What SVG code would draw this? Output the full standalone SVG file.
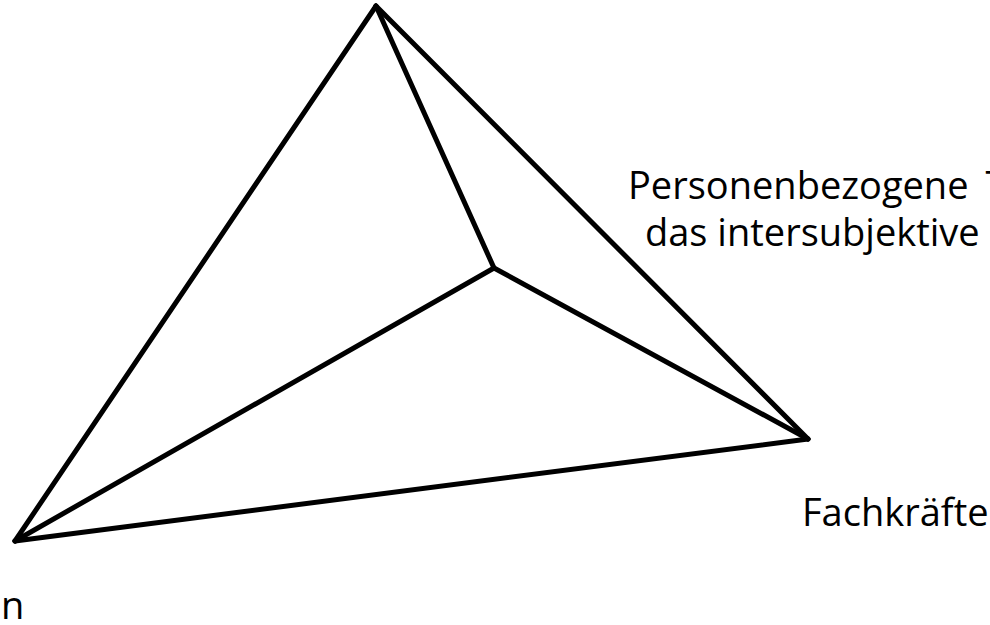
<svg xmlns="http://www.w3.org/2000/svg" width="990" height="625" viewBox="0 0 990 625">
<style>
.e{stroke:#000;stroke-width:5;stroke-linecap:round;fill:none}
.t{font-family:"Open Sans","Noto Sans",sans-serif;font-size:38px;fill:#000}
</style>
<rect width="990" height="625" fill="#fff"/>
<g id="connectors">
<line class="e" x1="376" y1="6" x2="15" y2="541"/>
<line class="e" x1="376" y1="6" x2="808" y2="439"/>
<line class="e" x1="15" y1="541" x2="808" y2="439"/>
<line class="e" x1="376" y1="6" x2="494" y2="268"/>
<line class="e" x1="494" y1="268" x2="15" y2="541"/>
<line class="e" x1="494" y1="268" x2="808" y2="439"/>
</g>
<g id="label-top-right">
<text class="t" x="628" y="199">Personenbezogene <tspan dx="7">T</tspan></text>
<text class="t" x="645" y="246">das intersubjektive</text>
</g>
<g id="label-right">
<text class="t" x="802" y="526">Fachkräfte</text>
</g>
<g id="label-left">
<text class="t" x="1" y="619">n</text>
</g>
</svg>
